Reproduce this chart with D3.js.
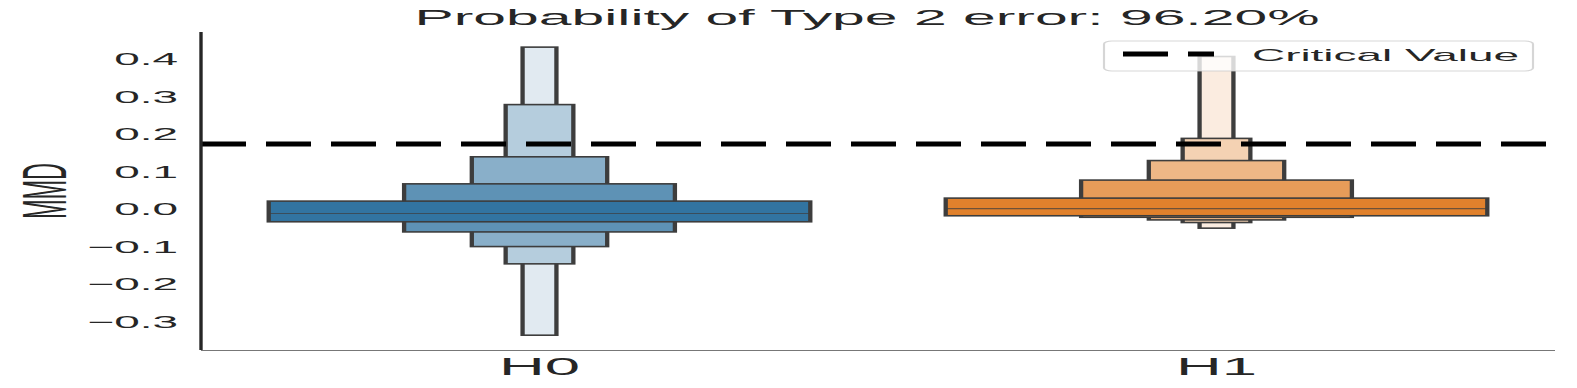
<!DOCTYPE html>
<html>
<head>
<meta charset="utf-8">
<script src="https://cdn.jsdelivr.net/npm/d3@7"></script>
<style>
body{margin:0;background:#fff;}
svg{display:block;}
</style>
</head>
<body>
<svg id="chart"></svg>
<script>
// chart values
var groups=["H0","H1"];
// letter values, innermost box first
var h0Lower=[-0.034,-0.061,-0.100,-0.146,-0.336];
var h0Upper=[0.021,0.067,0.139,0.278,0.431];
var h1Lower=[-0.018,-0.022,-0.029,-0.036,-0.051];
var h1Upper=[0.029,0.077,0.129,0.188,0.406];
var medians=[-0.012,0.001];
var criticalValue=0.173;
var yTicks=[-0.3,-0.2,-0.1,0.0,0.1,0.2,0.3,0.4];
var baseColors=["#3274a1","#e1812c"];
var titleText="Probability of Type 2 error: 96.20%";
var legendText="Critical Value";

var width=1577;
var height=388;
// the picture is stretched sideways, so draw in narrow units and stretch
var S=2.7;
var W=width/S;
function px(x){return x/S;}

var svg=d3.select("#chart")
.attr("width",width)
.attr("height",height)
.attr("viewBox",[0,0,W,height])
.attr("preserveAspectRatio","none")
.style("font-family","'Liberation Sans', Arial, sans-serif");

var plotLeft=px(201),plotRight=px(1555),plotTop=32,plotBottom=350;

var y=d3.scaleLinear()
.domain([-0.3754,0.4713])
.range([plotBottom,plotTop]);

var x=d3.scalePoint()
.domain(groups)
.range([plotLeft,plotRight])
.padding(0.5);

var step=x.step();

var boxes=[];
groups.forEach(function(g,gi){
  var lo=gi==0?h0Lower:h1Lower;
  var hi=gi==0?h0Upper:h1Upper;
  for(var i=0;i<lo.length;i++){
    boxes.push({group:g,gi:gi,level:i,lo:lo[i],hi:hi[i]});
  }
});
// narrow boxes go behind the wide ones
boxes.sort(function(a,b){return b.level-a.level;});

var g=svg.append("g");
g.selectAll("rect.box")
.data(boxes)
.join("rect")
.attr("class","box")
.attr("x",function(d){var w=0.8*step*Math.pow(0.5,d.level);return x(d.group)-w/2;})
.attr("width",function(d){return 0.8*step*Math.pow(0.5,d.level);})
.attr("y",function(d){return y(d.hi);})
.attr("height",function(d){return y(d.lo)-y(d.hi);})
.attr("fill",function(d){return d3.interpolateRgb(baseColors[d.gi],"#ffffff")(d.level*0.213);})
.attr("stroke","#3d3d3d")
.attr("stroke-width",1.6);

g.selectAll("line.median")
.data(groups)
.join("line")
.attr("class","median")
.attr("x1",function(d){return x(d)-0.4*step;})
.attr("x2",function(d){return x(d)+0.4*step;})
.attr("y1",function(d,i){return y(medians[i]);})
.attr("y2",function(d,i){return y(medians[i]);})
.attr("stroke","#3d3d3d")
.attr("stroke-opacity",0.7)
.attr("stroke-width",1.2);

// critical value line
svg.append("line")
.attr("x1",plotLeft)
.attr("x2",plotRight)
.attr("y1",y(criticalValue))
.attr("y2",y(criticalValue))
.attr("stroke","#000")
.attr("stroke-width",5)
.attr("stroke-dasharray",px(45)+" "+px(20));

// spines
svg.append("line")
.attr("x1",plotLeft).attr("x2",plotLeft)
.attr("y1",plotTop).attr("y2",plotBottom)
.attr("stroke","#262626").attr("stroke-width",1.25);
svg.append("line")
.attr("x1",plotLeft).attr("x2",plotRight)
.attr("y1",plotBottom+0.5).attr("y2",plotBottom+0.5)
.attr("stroke","#777777").attr("stroke-width",1);

// y tick labels
svg.append("g")
.selectAll("text")
.data(yTicks)
.join("text")
.attr("x",px(178))
.attr("y",function(d){return y(d)+6.2;})
.attr("text-anchor","end")
.style("font-size","17px")
.attr("fill","#262626")
.text(function(d){return d3.format(".1f")(d).replace("-","\u2212");});

// x tick labels
svg.append("g")
.selectAll("text")
.data(groups)
.join("text")
.attr("x",function(d){return x(d);})
.attr("y",375)
.attr("text-anchor","middle")
.style("font-size","23.5px")
.attr("fill","#262626")
.text(function(d){return d;});

// y label
svg.append("text")
.attr("transform","translate("+px(66)+","+((plotTop+plotBottom)/2)+") rotate(-90)")
.attr("text-anchor","middle")
.style("font-size","23.5px")
.attr("fill","#262626")
.text("MMD");

// title
svg.append("text")
.attr("x",(plotLeft+plotRight)/2-px(11))
.attr("y",25)
.attr("text-anchor","middle")
.style("font-size","21.8px")
.attr("fill","#262626")
.text(titleText);

// legend
var lg=svg.append("g");
lg.append("rect")
.attr("x",px(1104))
.attr("y",41)
.attr("width",px(1533-1104))
.attr("height",30)
.attr("rx",px(8))
.attr("ry",3)
.attr("fill","#fff")
.attr("fill-opacity",0.8)
.attr("stroke","#cccccc")
.attr("stroke-opacity",0.8)
.attr("stroke-width",0.8);
lg.append("line")
.attr("x1",px(1123))
.attr("x2",px(1214))
.attr("y1",54)
.attr("y2",54)
.attr("stroke","#000")
.attr("stroke-width",5)
.attr("stroke-dasharray",px(45)+" "+px(20));
lg.append("text")
.attr("x",px(1252))
.attr("y",61)
.style("font-size","17px")
.attr("fill","#262626")
.text(legendText);
</script>
</body>
</html>
